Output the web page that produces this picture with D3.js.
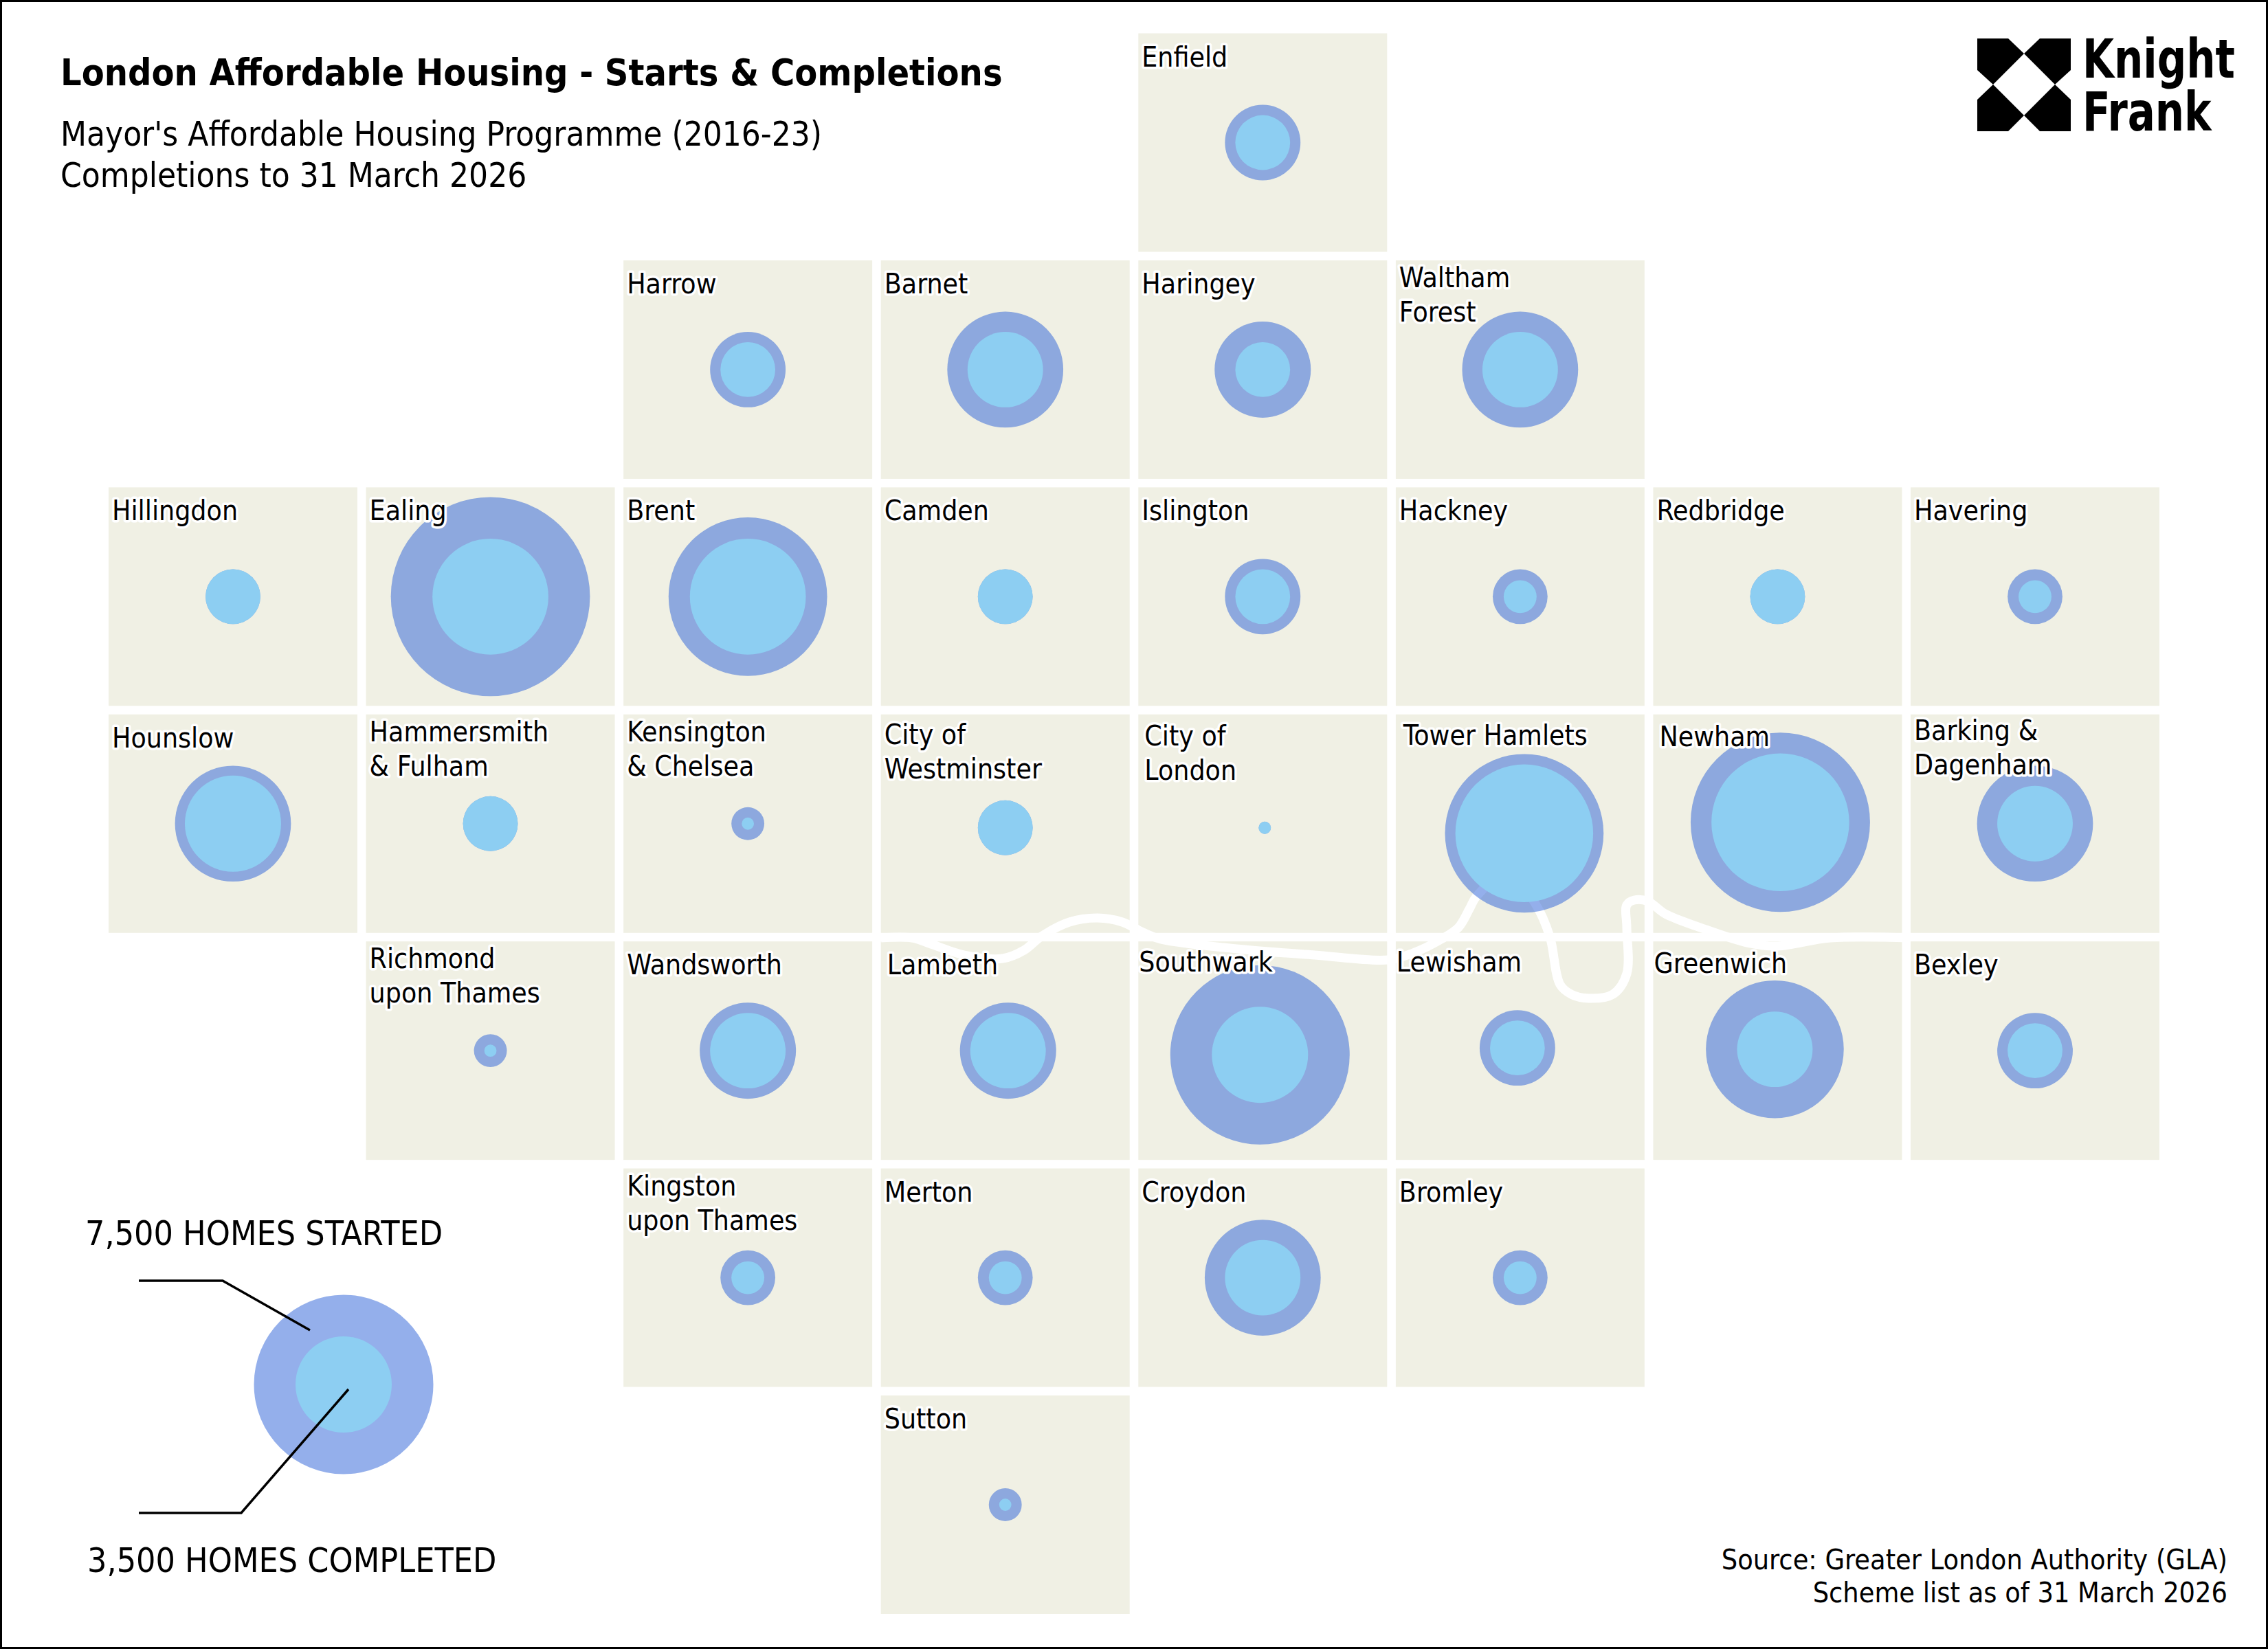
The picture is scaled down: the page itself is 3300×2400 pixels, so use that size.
<!DOCTYPE html>
<html>
<head>
<meta charset="utf-8">
<title>London Affordable Housing</title>
<script src="https://d3js.org/d3.v7.min.js"></script>
<style>
  html, body { margin: 0; padding: 0; background: #fff; }
  svg { display: block; }
  text { font-family: "DejaVu Sans Condensed", "DejaVu Sans", sans-serif; fill: #000; }
</style>
</head>
<body>
<div id="chart"></div>
<script>
// one entry per borough, same order in every array
var boroughs = ["Enfield", "Harrow", "Barnet", "Haringey", "Waltham Forest",
    "Hillingdon", "Ealing", "Brent", "Camden", "Islington", "Hackney", "Redbridge", "Havering",
    "Hounslow", "Hammersmith & Fulham", "Kensington & Chelsea", "City of Westminster", "City of London",
    "Tower Hamlets", "Newham", "Barking & Dagenham",
    "Richmond upon Thames", "Wandsworth", "Lambeth", "Southwark", "Lewisham", "Greenwich", "Bexley",
    "Kingston upon Thames", "Merton", "Croydon", "Bromley", "Sutton"];
var gridCols = [4, 2, 3, 4, 5,
    0, 1, 2, 3, 4, 5, 6, 7,
    0, 1, 2, 3, 4, 5, 6, 7,
    1, 2, 3, 4, 5, 6, 7,
    2, 3, 4, 5, 3];
var gridRows = [0, 1, 1, 1, 1,
    2, 2, 2, 2, 2, 2, 2, 2,
    3, 3, 3, 3, 3, 3, 3, 3,
    4, 4, 4, 4, 4, 4, 4,
    5, 5, 5, 5, 6];
var started = [2650, 2650, 4450, 3500, 4450,
    1800, 8450, 6500, 1800, 2650, 1800, 1800, 1800,
    4450, 1800, 900, 1800, 50, 6500, 7500, 4450,
    900, 3500, 3500, 7500, 2650, 5500, 2650,
    1800, 1800, 4450, 1800, 900];
var completed = [1800, 1800, 2650, 1800, 2650,
    1800, 4450, 4450, 1800, 1800, 900, 1800, 900,
    3500, 1800, 50, 1800, 50, 5500, 5500, 2650,
    50, 2650, 2650, 3500, 1800, 2650, 1800,
    900, 900, 2650, 900, 50];

var legendStarted = 7500, legendCompleted = 3500;
var titleText = "London Affordable Housing - Starts & Completions";
var subtitleLines = ["Mayor's Affordable Housing Programme (2016-23)", "Completions to 31 March 2026"];
var sourceLines = ["Source: Greater London Authority (GLA)", "Scheme list as of 31 March 2026"];

// label line breaks and the few bubbles/labels that sit off the tile centre
var labelBreaks = {
    "Waltham Forest": ["Waltham", "Forest"],
    "Hammersmith & Fulham": ["Hammersmith", "& Fulham"],
    "Kensington & Chelsea": ["Kensington", "& Chelsea"],
    "City of Westminster": ["City of", "Westminster"],
    "City of London": ["City of", "London"],
    "Barking & Dagenham": ["Barking &", "Dagenham"],
    "Richmond upon Thames": ["Richmond", "upon Thames"],
    "Kingston upon Thames": ["Kingston", "upon Thames"]
};
var bubbleNudge = {
    "City of Westminster": [0, 6], "City of London": [3, 6], "Tower Hamlets": [6, 14],
    "Newham": [4, -2], "Lambeth": [4, 0], "Southwark": [-4, 6], "Lewisham": [-4, -4], "Greenwich": [-4, -2]
};
var labelNudge = {
    "City of London": [4, 6], "City of Westminster": [0, 4], "Tower Hamlets": [6, -4], "Newham": [4, -2],
    "Lambeth": [4, 0], "Southwark": [-4, -4], "Lewisham": [-4, -4], "Greenwich": [-4, -2], "Bexley": [0, 0],
    "Barking & Dagenham": [0, -2]
};

// Thames, traced by hand in page pixels
var thames = [[1282, 1365], [1327, 1365], [1352, 1373], [1403, 1390], [1459, 1395], [1490, 1383], [1515, 1363],
    [1556, 1342], [1597, 1336], [1633, 1342], [1663, 1357], [1689, 1367], [1811, 1382], [1913, 1390], [2020, 1397],
    [2056, 1387], [2097, 1367], [2122, 1350], [2138, 1323], [2148, 1305], [2194, 1270], [2235, 1317], [2255, 1363],
    [2270, 1433], [2286, 1447], [2311, 1453], [2347, 1447], [2367, 1417], [2367, 1350], [2367, 1317], [2378, 1310],
    [2398, 1312], [2423, 1330], [2474, 1350], [2546, 1373], [2587, 1377], [2663, 1365], [2780, 1365]];

var W = 3300, H = 2400;
var tileColor = "#f0f0e4", startedColor = "#295fd7", completedColor = "#8dcef2";

var svg = d3.select("#chart").append("svg").attr("width", W).attr("height", H);
svg.append("rect").attr("width", W).attr("height", H).attr("fill", "#fff");

var x = d3.scaleBand().domain(d3.range(8)).range([158, 3142]).paddingInner(12.6 / 374.6);
var y = d3.scaleBand().domain(d3.range(7)).range([48.5, 2349]).paddingInner(12.4 / 330.4);
var r = d3.scaleLinear().domain([0, legendCompleted, legendStarted]).range([8, 70, 130.5]);

var data = boroughs.map(function (name, i) {
    return {name: name, col: gridCols[i], row: gridRows[i], started: started[i], completed: completed[i]};
});

function cx(d) {
    return x(d.col) + x.bandwidth() / 2 + (bubbleNudge[d.name] ? bubbleNudge[d.name][0] : 0);
}
function cy(d) {
    return y(d.row) + y.bandwidth() / 2 + (bubbleNudge[d.name] ? bubbleNudge[d.name][1] : 0);
}

svg.append("g").selectAll("rect").data(data).join("rect")
    .attr("x", function (d) { return x(d.col); })
    .attr("y", function (d) { return y(d.row); })
    .attr("width", x.bandwidth())
    .attr("height", y.bandwidth())
    .attr("fill", tileColor);

svg.append("path")
    .attr("d", d3.line().curve(d3.curveCatmullRom)(thames))
    .attr("fill", "none")
    .attr("stroke", "#fff")
    .attr("stroke-width", 13)
    .attr("stroke-linejoin", "round");

svg.append("g").selectAll("circle").data(data).join("circle")
    .attr("cx", cx).attr("cy", cy)
    .attr("r", function (d) { return r(d.started); })
    .attr("fill", startedColor)
    .attr("fill-opacity", 0.5);

svg.append("g").selectAll("circle").data(data).join("circle")
    .attr("cx", cx).attr("cy", cy)
    .attr("r", function (d) { return r(d.completed); })
    .attr("fill", completedColor);

// tile labels, white halo so they stay readable over the big bubbles
var labels = svg.append("g").selectAll("text").data(data).join("text")
    .attr("font-size", 40.6)
    .attr("stroke", "#fff")
    .attr("stroke-width", 7)
    .attr("stroke-linejoin", "round")
    .attr("paint-order", "stroke")
    .attr("transform", function (d) {
        var n = labelNudge[d.name] || [0, 0];
        var first = labelBreaks[d.name] ? 39 : 48;
        return "translate(" + (x(d.col) + 5 + n[0]) + "," + (y(d.row) + first + n[1]) + ")";
    });
labels.selectAll("tspan")
    .data(function (d) { return labelBreaks[d.name] || [d.name]; })
    .join("tspan")
    .attr("x", 0)
    .attr("y", function (d, i) { return i * 50; })
    .text(function (d) { return d; });

// header
svg.append("text").attr("x", 88).attr("y", 124)
    .attr("font-size", 53.5).attr("font-weight", "bold").text(titleText);
svg.selectAll(".subtitle").data(subtitleLines).join("text")
    .attr("class", "subtitle")
    .attr("x", 88)
    .attr("y", function (d, i) { return 212 + i * 60; })
    .attr("font-size", 49)
    .text(function (d) { return d; });

// legend
var legendX = 500, legendY = 2015;
svg.append("circle").attr("cx", legendX).attr("cy", legendY).attr("r", r(legendStarted))
    .attr("fill", startedColor).attr("fill-opacity", 0.5);
svg.append("circle").attr("cx", legendX).attr("cy", legendY).attr("r", r(legendCompleted))
    .attr("fill", completedColor);
var leader = d3.line();
svg.append("path").attr("d", leader([[202, 1864], [324, 1864], [451, 1936]]))
    .attr("fill", "none").attr("stroke", "#000").attr("stroke-width", 3.5);
svg.append("path").attr("d", leader([[202, 2202], [351, 2202], [507, 2022]]))
    .attr("fill", "none").attr("stroke", "#000").attr("stroke-width", 3.5);
svg.append("text").attr("x", 124).attr("y", 1812).attr("font-size", 49.7)
    .text(d3.format(",")(legendStarted) + " HOMES STARTED");
svg.append("text").attr("x", 127).attr("y", 2288).attr("font-size", 49.7)
    .text(d3.format(",")(legendCompleted) + " HOMES COMPLETED");

// source
svg.selectAll(".source").data(sourceLines).join("text")
    .attr("class", "source")
    .attr("x", 3241)
    .attr("y", function (d, i) { return 2284 + i * 48; })
    .attr("text-anchor", "end")
    .attr("font-size", 41)
    .text(function (d) { return d; });

// logo
var logoPieces = [
    [[2877, 56], [2922, 56], [2945, 78], [2900, 123], [2877, 102]],
    [[2968, 56], [3013, 56], [3013, 102], [2990, 123], [2945, 78]],
    [[2900, 123], [2945, 168], [2922, 191], [2877, 191], [2877, 145]],
    [[2990, 123], [3013, 145], [3013, 191], [2968, 191], [2945, 168]]
];
svg.append("g").selectAll("polygon").data(logoPieces).join("polygon")
    .attr("points", function (d) { return d.join(" "); })
    .attr("fill", "#000");

// logo wordmark, one text squeezed to the measured width since there is no narrow bold font here
var logoText = svg.append("text").attr("font-size", 78).attr("font-weight", "bold");
var knight = logoText.append("tspan").attr("x", 0).attr("y", 113).text("Knight");
logoText.append("tspan").attr("x", 0).attr("y", 190).text("Frank");
logoText.attr("transform", "translate(3030,0) scale(" + 222 / knight.node().getComputedTextLength() + ",1)");

// frame
svg.append("rect").attr("x", 1.5).attr("y", 1.5).attr("width", W - 3).attr("height", H - 3)
    .attr("fill", "none").attr("stroke", "#000").attr("stroke-width", 3);
</script>
</body>
</html>
